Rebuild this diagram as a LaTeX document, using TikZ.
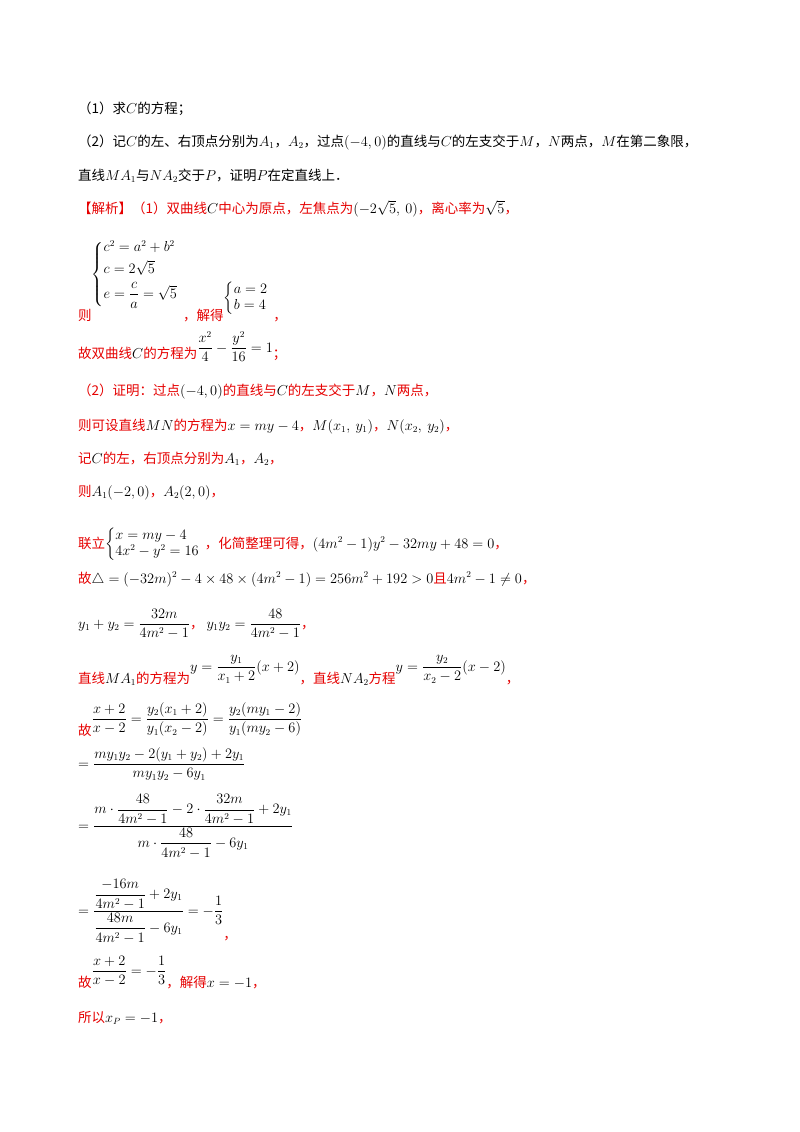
\documentclass[tikz,border=0pt]{standalone}
\usepackage{amsmath,amssymb}
\usepackage[no-math]{fontspec}
\setmainfont{Noto Sans CJK SC}
\definecolor{rd}{RGB}{230,0,0}
\newcommand{\rr}[1]{\textcolor{rd}{#1}}
\tikzset{ln/.style={anchor=base west,inner sep=0pt,font=\fontsize{13.5}{16}\selectfont}}
\begin{document}
\begin{tikzpicture}[x=1pt,y=-1pt]
\useasboundingbox[fill=white] (0,0) rectangle (800,1132);
\node[ln] (l1) at (78,113) {（1）求$C$的方程；};
\node[ln] (l2) at (78,146) {（2）记$C$的左、右顶点分别为$A_1$，$A_2$，过点$(-4,0)$的直线与$C$的左支交于$M$，$N$两点，$M$在第二象限，};
\node[ln] (l3) at (78,180) {直线$MA_1$与$NA_2$交于$P$，证明$P$在定直线上．};
\node[ln] (l4) at (78,213) {\rr{【解析】（1）双曲线}$C$\rr{中心为原点，左焦点为}$(-2\sqrt5,\ 0)$\rr{，离心率为}$\sqrt5$\rr{，}};
\node[ln] (l5) at (78,320) {\rr{则}\raisebox{42pt}{$\left\{\begin{array}{@{}l}c^2=a^2+b^2\\[4pt] c=2\sqrt5\\[4pt] e=\dfrac{c}{a}=\sqrt5\end{array}\right.$}\rr{，解得}\raisebox{18pt}{$\left\{\begin{array}{@{}l}a=2\\ b=4\end{array}\right.$}\rr{，}};
\node[ln] (l6) at (78,358) {\rr{故双曲线}$C$\rr{的方程为}\raisebox{6pt}{$\dfrac{x^2}{4}-\dfrac{y^2}{16}=1$}\rr{；}};
\node[ln] (l7) at (78,395) {\rr{（2）证明：过点}$(-4,0)$\rr{的直线与}$C$\rr{的左支交于}$M$\rr{，}$N$\rr{两点，}};
\node[ln] (l8) at (78,430) {\rr{则可设直线}$MN$\rr{的方程为}$x=my-4$\rr{，}$M(x_1,\ y_1)$\rr{，}$N(x_2,\ y_2)$\rr{，}};
\node[ln] (l9) at (78,463) {\rr{记}$C$\rr{的左，右顶点分别为}$A_1$\rr{，}$A_2$\rr{，}};
\node[ln] (l10) at (78,496) {\rr{则}$A_1(-2,0)$\rr{，}$A_2(2,0)$\rr{，}};
\node[ln] (l11) at (78,548) {\rr{联立}$\left\{\begin{array}{@{}l}x=my-4\\ 4x^2-y^2=16\end{array}\right.$\rr{，化简整理可得，}$(4m^2-1)y^2-32my+48=0$\rr{，}};
\node[ln] (l12) at (78,583) {\rr{故}$\triangle=(-32m)^2-4\times48\times(4m^2-1)=256m^2+192>0$\rr{且}$4m^2-1\neq0$\rr{，}};
\node[ln] (l13) at (78,628) {$y_1+y_2=\dfrac{32m}{4m^2-1}$\rr{，}\ $y_1y_2=\dfrac{48}{4m^2-1}$\rr{，}};
\node[ln] (l14) at (78,683) {\rr{直线}$MA_1$\rr{的方程为}\raisebox{12pt}{$y=\dfrac{y_1}{x_1+2}(x+2)$}\rr{，直线}$NA_2$\rr{方程}\raisebox{12pt}{$y=\dfrac{y_2}{x_2-2}(x-2)$}\rr{，}};
\node[ln] (l15) at (78,735) {\rr{故}\raisebox{12pt}{$\dfrac{x+2}{x-2}=\dfrac{y_2(x_1+2)}{y_1(x_2-2)}=\dfrac{y_2(my_1-2)}{y_1(my_2-6)}$}};
\node[ln] (l16) at (78,768) {$=\dfrac{my_1y_2-2(y_1+y_2)+2y_1}{my_1y_2-6y_1}$};
\node[ln] (l17) at (78,830) {$=\dfrac{m\cdot\dfrac{48}{4m^2-1}-2\cdot\dfrac{32m}{4m^2-1}+2y_1}{m\cdot\dfrac{48}{4m^2-1}-6y_1}$};
\node[ln] (l18) at (78,915) {$=\dfrac{\dfrac{-16m}{4m^2-1}+2y_1}{\dfrac{48m}{4m^2-1}-6y_1}=-\dfrac13$\raisebox{-24pt}{\rr{，}}};
\node[ln] (l19) at (78,987) {\rr{故}\raisebox{12pt}{$\dfrac{x+2}{x-2}=-\dfrac13$}\rr{，解得}$x=-1$\rr{，}};
\node[ln] (l20) at (78,1022) {\rr{所以}$x_P=-1$\rr{，}};
\end{tikzpicture}
\end{document}
